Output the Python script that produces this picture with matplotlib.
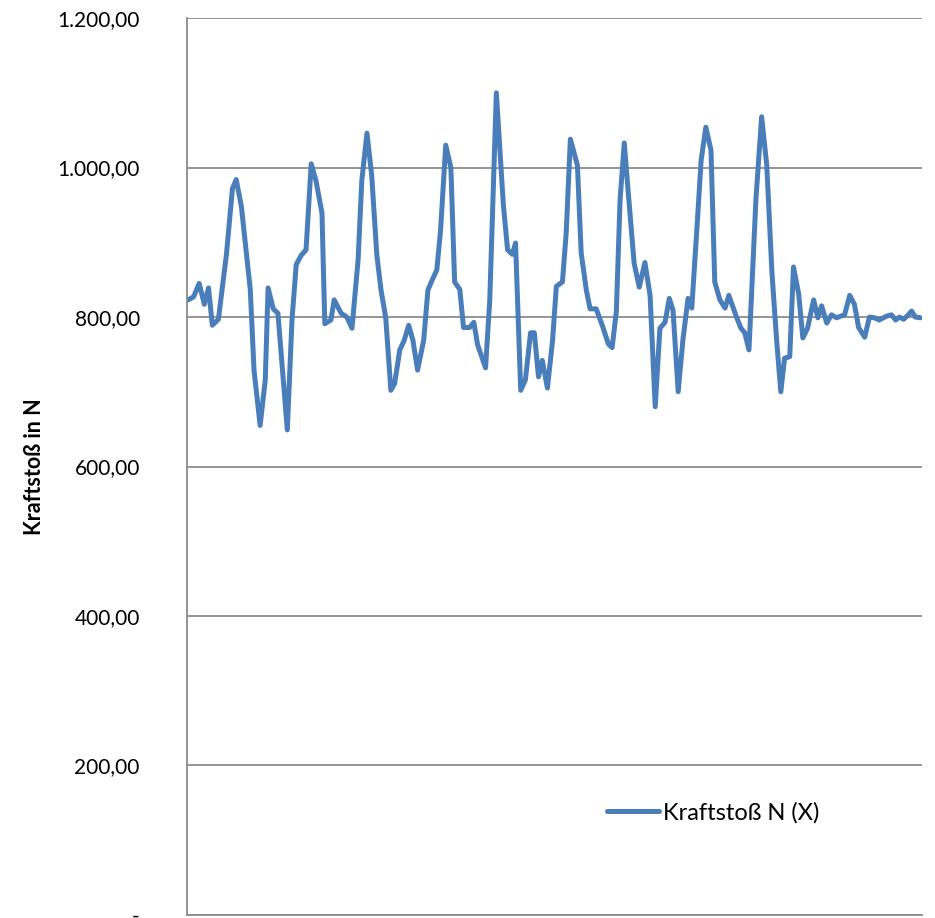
import matplotlib.pyplot as plt
from matplotlib.ticker import FuncFormatter, MultipleLocator

plt.rcParams['font.family'] = ['Lato', 'DejaVu Sans']

# Messpunkte (Position entlang der Kategorienachse) und Kraftstoss-Werte
messpunkt = [0.0, 1.1, 2.3, 3.4, 4.3, 5.1, 6.4, 8.1, 9.4, 10.2, 11.3, 13.2, 14.0, 15.3, 16.4,
             17.0, 18.1, 19.1, 21.1, 22.1, 23.0, 24.0, 25.1, 26.2, 27.2, 28.5, 29.1, 30.4,
             31.1, 32.6, 33.8, 34.9, 36.2, 37.0, 38.1, 39.1, 40.2, 41.1, 42.1, 43.2, 44.0,
             45.1, 46.0, 47.0, 47.9, 48.9, 50.2, 51.1, 51.9, 53.0, 53.8, 54.9, 56.0, 56.8,
             57.9, 58.7, 60.0, 60.9, 61.7, 63.4, 64.3, 65.7, 67.2, 68.1, 69.1, 69.8, 70.9,
             71.9, 73.0, 73.8, 74.7, 75.5, 76.6, 77.7, 78.5, 79.8, 80.6, 81.5, 83.0, 83.8,
             84.9, 85.7, 87.0, 88.3, 89.6, 90.4, 91.3, 92.1, 93.0, 93.8, 95.1, 96.2, 97.4,
             98.5, 99.6, 100.6, 101.7, 102.6, 103.4, 104.5, 105.5, 106.6, 107.4, 108.5,
             109.4, 110.4, 111.5, 112.3, 113.4, 114.5, 115.3, 117.0, 117.9, 118.7, 119.6,
             120.2, 121.1, 122.3, 123.4, 124.5, 125.5, 126.4, 127.2, 128.3, 129.1, 130.2,
             131.1, 132.1, 133.4, 134.3, 135.1, 136.2, 137.2, 138.3, 139.1, 140.0, 141.1,
             142.1, 143.0, 144.3, 145.3, 146.4, 147.4, 148.9, 150.0, 150.9, 151.7, 152.6,
             153.6, 154.3, 155.1, 156.2]
kraftstoss = [823, 827, 845, 817, 839, 789, 797, 883, 972, 984, 948, 837, 729, 655, 716,
              839, 811, 805, 649, 796, 870, 882, 890, 1005, 983, 939, 791, 796, 823, 805,
              800, 785, 876, 983, 1046, 990, 883, 836, 799, 702, 711, 756, 768, 789, 769,
              729, 769, 836, 848, 863, 916, 1030, 1000, 847, 837, 786, 786, 793, 763, 732,
              823, 1100, 950, 890, 884, 899, 702, 716, 779, 779, 720, 742, 705, 769, 841,
              847, 912, 1038, 1003, 886, 836, 811, 811, 789, 764, 759, 807, 957, 1033, 970,
              872, 840, 873, 829, 680, 785, 793, 825, 809, 700, 769, 825, 812, 919, 1010,
              1054, 1023, 847, 823, 812, 829, 799, 785, 779, 756, 836, 959, 1068, 1003, 860,
              769, 700, 745, 747, 867, 831, 772, 785, 823, 799, 815, 792, 803, 799, 801,
              803, 829, 817, 786, 773, 800, 799, 796, 801, 803, 796, 800, 797, 803, 808,
              800, 799]

serie_name = 'Kraftstoß N (X)'
y_label = 'Kraftstoß in N'


def de_format(v, pos):
    if abs(v) < 1e-9:
        return '-'
    s = f'{v:,.2f}'
    return s.replace(',', 'X').replace('.', ',').replace('X', '.')


fig = plt.figure(figsize=(9.35, 9.18), dpi=100)
ax = fig.add_axes([0.2, 0.0033, 0.786, 0.977])

ax.plot(messpunkt, kraftstoss, color='#4A7EBB', linewidth=3.6, label=serie_name,
        solid_joinstyle='round', solid_capstyle='round')

ax.set_xlim(-0.3, 156.5)
ax.set_ylim(0, 1200)
ax.yaxis.set_major_locator(MultipleLocator(200))
ax.yaxis.set_major_formatter(FuncFormatter(de_format))
ax.grid(axis='y', color='#8c8c8c', linewidth=1.3)
ax.set_axisbelow(True)
ax.set_xticks([])
ax.tick_params(axis='y', length=0, pad=34, labelsize=15, labelcolor='black')

for side in ['top', 'right']:
    ax.spines[side].set_visible(False)
for side in ['left', 'bottom']:
    ax.spines[side].set_color('#8c8c8c')
    ax.spines[side].set_linewidth(1.3)

ax.set_ylabel(y_label, fontsize=15.5, fontweight='bold', va='center')
ax.yaxis.set_label_coords(-0.207, 0.5)

ax.legend(loc='center left', bbox_to_anchor=(0.542, 0.114), frameon=False,
          fontsize=17, handlelength=2.2, handletextpad=0.2)

fig.savefig('out.png', dpi=100)
